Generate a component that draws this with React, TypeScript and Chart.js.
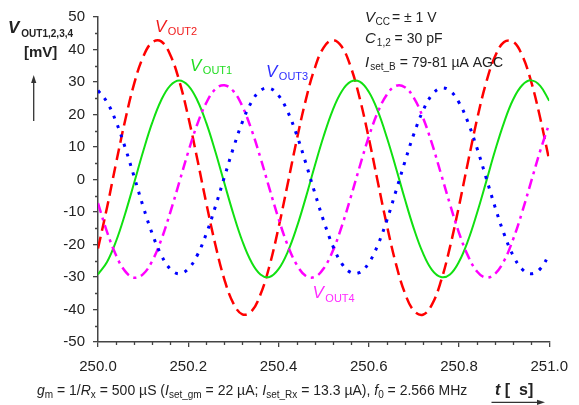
import React, { useEffect, useRef } from 'react';
import { Chart, registerables } from 'chart.js';

Chart.register(...registerables);

// time axis (µs)
const times = [
  250.0, 250.02, 250.04, 250.06, 250.08, 250.1, 250.12, 250.14, 250.16, 250.18,
  250.2, 250.22, 250.24, 250.26, 250.28, 250.3, 250.32, 250.34, 250.36, 250.38,
  250.4, 250.42, 250.44, 250.46, 250.48, 250.5, 250.52, 250.54, 250.56, 250.58,
  250.6, 250.62, 250.64, 250.66, 250.68, 250.7, 250.72, 250.74, 250.76, 250.78,
  250.8, 250.82, 250.84, 250.86, 250.88, 250.9, 250.92, 250.94, 250.96, 250.98,
  251.0,
];

// V_OUT1 (green, solid)
const vOut1 = [
  -29.2, -25.4, -19.0, -10.6, -1.1, 8.6, 17.4, 24.4, 28.9, 30.5,
  28.9, 24.4, 17.4, 8.6, -1.1, -10.6, -19.0, -25.4, -29.2, -30.0,
  -27.6, -22.4, -14.9, -5.8, 4.0, 13.3, 21.3, 27.1, 30.1, 30.1,
  27.0, 21.1, 13.0, 3.7, -6.0, -15.1, -22.6, -27.8, -30.0, -29.2,
  -25.3, -18.8, -10.3, -0.8, 8.9, 17.6, 24.6, 29.0, 30.5, 28.8,
  24.2,
];

// V_OUT2 (red, dashed)
const vOut2 = [
  -21.2, -8.6, 5.0, 18.1, 29.4, 37.7, 42.2, 42.5, 38.4, 30.4,
  19.3, 6.3, -7.3, -20.0, -30.7, -38.1, -41.5, -40.6, -35.4, -26.6,
  -14.9, -1.6, 11.9, 24.2, 34.1, 40.6, 42.9, 40.9, 34.7, 25.0,
  12.8, -0.7, -14.0, -25.8, -34.9, -40.4, -41.6, -38.5, -31.3, -20.8,
  -8.2, 5.4, 18.5, 29.7, 37.9, 42.3, 42.4, 38.2, 30.1, 18.9,
  5.9,
];

// V_OUT3 (blue, dotted)
const vOut3 = [
  27.4, 23.8, 17.8, 9.9, 0.9, -8.3, -16.6, -23.2, -27.5, -29.0,
  -27.5, -23.3, -16.7, -8.4, 0.7, 9.7, 17.7, 23.8, 27.4, 28.1,
  25.9, 21.0, 13.9, 5.3, -3.9, -12.7, -20.3, -25.8, -28.6, -28.6,
  -25.7, -20.2, -12.6, -3.7, 5.4, 14.0, 21.1, 26.0, 28.1, 27.3,
  23.7, 17.6, 9.6, 0.6, -8.5, -16.8, -23.4, -27.6, -29.0, -27.5,
  -23.1,
];

// V_OUT4 (magenta, dash-dot)
const vOut4 = [
  -7.3, -16.1, -23.3, -28.2, -30.2, -29.1, -25.1, -18.6, -10.2, -0.9,
  8.5, 17.0, 23.6, 27.8, 29.0, 27.2, 22.5, 15.4, 6.7, -2.8,
  -12.0, -20.1, -26.1, -29.6, -30.0, -27.4, -22.1, -14.5, -5.5, 4.0,
  13.1, 20.7, 26.1, 28.8, 28.4, 25.1, 19.1, 11.1, 1.8, -7.6,
  -16.4, -23.5, -28.3, -30.2, -29.0, -25.0, -18.4, -10.0, -0.6, 8.8,
  17.2,
];

const X_MIN = 250.0;
const X_MAX = 251.0;
const X_STEP = 0.2;
const X_MINOR = 0.04;
const Y_MIN = -50;
const Y_MAX = 50;
const Y_STEP = 10;
const Y_MINOR = 5;

const FONT = '"Liberation Sans", Arial, Helvetica, sans-serif';
const TEXT = '#222222';
const AXIS = '#444444';

type Seg = { t: string; f: string; dy?: number; gap?: number };

function drawRich(ctx: CanvasRenderingContext2D, x: number, y: number, segs: Seg[], color: string) {
  let cx = x;
  ctx.fillStyle = color;
  ctx.textBaseline = 'alphabetic';
  ctx.textAlign = 'left';
  for (const s of segs) {
    cx += s.gap || 0;
    ctx.font = s.f;
    ctx.fillText(s.t, cx, y + (s.dy || 0));
    cx += ctx.measureText(s.t).width;
  }
}

function arrow(ctx: CanvasRenderingContext2D, x1: number, y1: number, x2: number, y2: number) {
  const ang = Math.atan2(y2 - y1, x2 - x1);
  const hl = 8;
  const hw = 2.6;
  ctx.strokeStyle = '#333';
  ctx.fillStyle = '#333';
  ctx.lineWidth = 1.3;
  ctx.beginPath();
  ctx.moveTo(x1, y1);
  ctx.lineTo(x2 - hl * Math.cos(ang), y2 - hl * Math.sin(ang));
  ctx.stroke();
  ctx.beginPath();
  ctx.moveTo(x2, y2);
  ctx.lineTo(x2 - hl * Math.cos(ang) - hw * Math.sin(ang), y2 - hl * Math.sin(ang) + hw * Math.cos(ang));
  ctx.lineTo(x2 - hl * Math.cos(ang) + hw * Math.sin(ang), y2 - hl * Math.sin(ang) - hw * Math.cos(ang));
  ctx.closePath();
  ctx.fill();
}

const annotationPlugin = {
  id: 'annotations',
  afterDraw(chart: any) {
    const ctx: CanvasRenderingContext2D = chart.ctx;
    const xs = chart.scales.x;
    const ys = chart.scales.y;
    const { left, bottom } = chart.chartArea;
    ctx.save();

    // minor ticks
    ctx.strokeStyle = AXIS;
    ctx.lineWidth = 1.3;
    ctx.beginPath();
    for (let v = Y_MIN + Y_MINOR; v < Y_MAX; v += Y_STEP) {
      const py = Math.round(ys.getPixelForValue(v)) + 0.5;
      ctx.moveTo(left - 3, py);
      ctx.lineTo(left, py);
    }
    const nMinor = Math.round((X_MAX - X_MIN) / X_MINOR);
    for (let i = 1; i < nMinor; i++) {
      if (i % 5 === 0) continue;
      const px = Math.round(xs.getPixelForValue(X_MIN + i * X_MINOR)) + 0.5;
      ctx.moveTo(px, bottom);
      ctx.lineTo(px, bottom + 3);
    }
    ctx.stroke();

    // curve labels
    const lab = (x: number, y: number, sub: string, color: string) =>
      drawRich(ctx, x, y, [
        { t: 'V', f: `italic 17px ${FONT}` },
        { t: sub, f: `11px ${FONT}`, dy: 3.5, gap: 1.5 },
      ], color);
    lab(155, 31.5, 'OUT2', '#f01c1c');
    lab(190, 70.5, 'OUT1', '#22dd22');
    lab(266, 76.5, 'OUT3', '#2f2fff');
    lab(312.5, 298.3, 'OUT4', '#ff2cff');

    // top-right parameters
    drawRich(ctx, 365, 21.7, [
      { t: 'V', f: `italic 15px ${FONT}` },
      { t: 'CC', f: `10px ${FONT}`, dy: 3.3, gap: 0.5 },
      { t: '= ± 1 V', f: `14px ${FONT}`, gap: 2 },
    ], TEXT);
    drawRich(ctx, 365, 43.3, [
      { t: 'C', f: `italic 15px ${FONT}` },
      { t: '1,2', f: `10px ${FONT}`, dy: 2.7, gap: 1 },
      { t: ' = 30 pF', f: `14px ${FONT}` },
    ], TEXT);
    drawRich(ctx, 365, 66.7, [
      { t: 'I', f: `italic 15px ${FONT}` },
      { t: 'set_B', f: `10px ${FONT}`, dy: 3.3, gap: 1 },
      { t: ' = 79-81 µA AGC', f: `14px ${FONT}` },
    ], TEXT);

    // y-axis title
    drawRich(ctx, 8, 32.7, [
      { t: 'V', f: `italic bold 17px ${FONT}` },
      { t: 'OUT1,2,3,4', f: `bold 10px ${FONT}`, dy: 4, gap: 2 },
    ], TEXT);
    drawRich(ctx, 24, 56.5, [{ t: '[mV]', f: `bold 15px ${FONT}` }], TEXT);
    arrow(ctx, 33.7, 121, 33.7, 75);

    // bottom caption
    drawRich(ctx, 37, 395, [
      { t: 'g', f: `italic 14px ${FONT}` },
      { t: 'm', f: `10px ${FONT}`, dy: 2.5 },
      { t: ' = 1/', f: `14px ${FONT}` },
      { t: 'R', f: `italic 14px ${FONT}` },
      { t: 'x', f: `10px ${FONT}`, dy: 2.5 },
      { t: ' = 500 µS (', f: `14px ${FONT}` },
      { t: 'I', f: `italic 14px ${FONT}` },
      { t: 'set_gm', f: `10px ${FONT}`, dy: 2.5 },
      { t: ' = 22 µA; ', f: `14px ${FONT}` },
      { t: 'I', f: `italic 14px ${FONT}` },
      { t: 'set_Rx', f: `10px ${FONT}`, dy: 2.5 },
      { t: ' = 13.3 µA), ', f: `14px ${FONT}` },
      { t: 'f', f: `italic 14px ${FONT}` },
      { t: '0', f: `10px ${FONT}`, dy: 2.5 },
      { t: ' = 2.566 MHz', f: `14px ${FONT}` },
    ], TEXT);

    drawRich(ctx, 495, 395, [
      { t: 't', f: `italic bold 16px ${FONT}` },
      { t: ' [  s]', f: `bold 16px ${FONT}` },
    ], TEXT);
    arrow(ctx, 491.5, 402.3, 545, 402.3);

    ctx.restore();
  },
};

export default function App() {
  const canvasRef = useRef<HTMLCanvasElement | null>(null);

  useEffect(() => {
    document.body.style.margin = '0';
    const canvas = canvasRef.current;
    if (!canvas) return;

    const mk = (vals: number[]) => times.map((t, i) => ({ x: t, y: vals[i] }));

    const chart = new Chart(canvas, {
      type: 'line',
      data: {
        datasets: [
          {
            label: 'V_OUT3',
            data: mk(vOut3),
            borderColor: '#0000ff',
            borderWidth: 3,
            borderDash: [3, 7],
            pointRadius: 0,
            tension: 0.4,
            fill: false,
          },
          {
            label: 'V_OUT4',
            data: mk(vOut4),
            borderColor: '#ff00ff',
            borderWidth: 2.5,
            borderDash: [10, 5, 3, 5],
            pointRadius: 0,
            tension: 0.4,
            fill: false,
          },
          {
            label: 'V_OUT1',
            data: mk(vOut1),
            borderColor: '#11e011',
            borderWidth: 2,
            pointRadius: 0,
            tension: 0.4,
            fill: false,
          },
          {
            label: 'V_OUT2',
            data: mk(vOut2),
            borderColor: '#ff0000',
            borderWidth: 2.5,
            borderDash: [12, 6],
            pointRadius: 0,
            tension: 0.4,
            fill: false,
          },
        ],
      },
      options: {
        animation: false,
        responsive: false,
        devicePixelRatio: 1,
        layout: { padding: { top: 16, right: 20, left: 0, bottom: 0 } },
        plugins: {
          legend: { display: false },
          tooltip: { enabled: false },
          title: { display: false },
        },
        scales: {
          x: {
            type: 'linear',
            min: X_MIN,
            max: X_MAX,
            afterFit: (s: any) => { s.height = 63; },
            border: { display: true, color: AXIS, width: 1.5 },
            grid: { display: true, drawOnChartArea: false, drawTicks: true, tickLength: 5, color: AXIS, lineWidth: 1.3 },
            ticks: {
              stepSize: X_STEP,
              autoSkip: false,
              maxRotation: 0,
              padding: 11,
              color: TEXT,
              font: { family: FONT, size: 15 },
              callback: (v: any) => Number(v).toFixed(1),
            },
          },
          y: {
            type: 'linear',
            min: Y_MIN,
            max: Y_MAX,
            afterFit: (s: any) => { s.width = 98; },
            border: { display: true, color: AXIS, width: 1.5 },
            grid: { display: true, drawOnChartArea: false, drawTicks: true, tickLength: 5, color: AXIS, lineWidth: 1.3 },
            ticks: {
              stepSize: Y_STEP,
              autoSkip: false,
              padding: 8,
              color: TEXT,
              font: { family: FONT, size: 15 },
              callback: (v: any) => String(Math.round(Number(v))),
            },
          },
        },
      },
      plugins: [annotationPlugin],
    });

    return () => chart.destroy();
  }, []);

  return (
    <div style={{ width: 579, height: 405, background: '#fff' }}>
      <canvas ref={canvasRef} width={579} height={405} style={{ display: 'block', width: 579, height: 405 }} />
    </div>
  );
}
